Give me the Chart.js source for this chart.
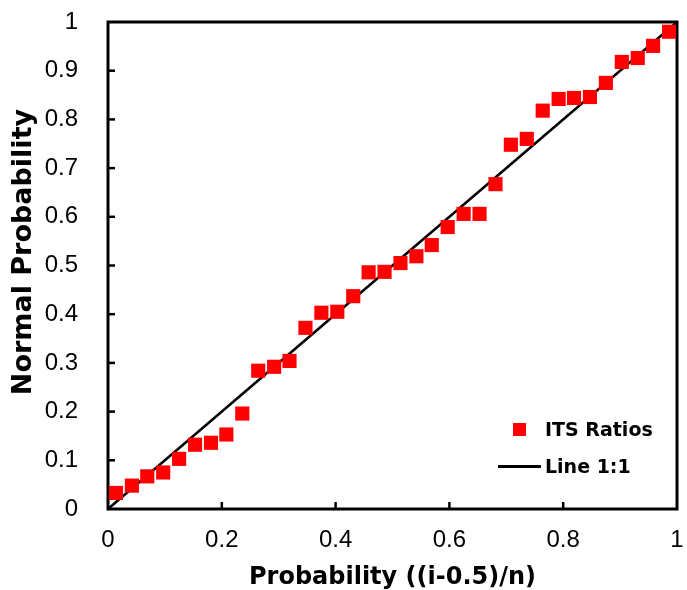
<!DOCTYPE html>
<html>
<head>
<meta charset="utf-8">
<script src="https://cdn.jsdelivr.net/npm/chart.js@4"></script>
<style>
    body { margin: 0; background: #fff; }
    #wrap { position: relative; width: 687px; height: 590px; }
    .legend-item {
        position: absolute;
        font-family: "DejaVu Sans", sans-serif;
        font-weight: bold;
        font-size: 19px;
        line-height: 20px;
        color: #000;
        white-space: nowrap;
    }
    .legend-mark { position: absolute; }
</style>
</head>
<body>
<div id="wrap">
    <canvas id="chart" width="687" height="590"></canvas>
    <!-- legend sits inside the plot, bottom right -->
    <div class="legend-mark" style="left:513px; top:423px; width:13px; height:13px; background:#ff0000;"></div>
    <div class="legend-item" style="left:545px; top:419px;">ITS Ratios</div>
    <div class="legend-mark" style="left:498px; top:465px; width:43px; height:3px; background:#000;"></div>
    <div class="legend-item" style="left:545px; top:456px;">Line 1:1</div>
</div>
<script>
// probability plot: sample probability vs normal probability

const probability = [
    0.014, 0.042, 0.069, 0.097, 0.125, 0.153, 0.181, 0.208, 0.236, 0.264,
    0.292, 0.319, 0.347, 0.375, 0.403, 0.431, 0.458, 0.486, 0.514, 0.542,
    0.569, 0.597, 0.625, 0.653, 0.681, 0.708, 0.736, 0.764, 0.792, 0.819,
    0.847, 0.875, 0.903, 0.931, 0.958, 0.986
];
const normalProbability = [
    0.033, 0.048, 0.067, 0.075, 0.103, 0.132, 0.136, 0.153, 0.196, 0.284,
    0.292, 0.304, 0.372, 0.403, 0.405, 0.437, 0.486, 0.487, 0.505, 0.519,
    0.542, 0.579, 0.606, 0.606, 0.667, 0.748, 0.760, 0.818, 0.842, 0.844,
    0.846, 0.875, 0.918, 0.926, 0.951, 0.980
];
const lineX = [0, 1];
const lineY = [0, 1];

const xTicks = [0, 0.2, 0.4, 0.6, 0.8, 1];
const yTicks = [0, 0.1, 0.2, 0.3, 0.4, 0.5, 0.6, 0.7, 0.8, 0.9, 1];

const tickFont = { family: '"Liberation Sans", Arial, sans-serif', size: 24, weight: 'normal' };
const titleShift = 27; // y title sits a bit above the middle of the axis

// box round the plot + inward tick marks
const framePlugin = {
    id: 'frame',
    beforeDraw(chart) {
        // only while the axis (and its title) is drawn
        chart.scales.y.bottom -= titleShift;
    },
    beforeDatasetsDraw(chart) {
        chart.scales.y.bottom += titleShift;

        const { ctx, chartArea: a, scales } = chart;
        ctx.save();
        ctx.strokeStyle = '#000';
        ctx.lineWidth = 2.5;
        const len = 7;
        scales.x.ticks.forEach(t => {
            if (t.value <= 0 || t.value >= 1) return;
            const px = scales.x.getPixelForValue(t.value);
            ctx.beginPath();
            ctx.moveTo(px, a.bottom);
            ctx.lineTo(px, a.bottom - len);
            ctx.stroke();
        });
        scales.y.ticks.forEach(t => {
            if (t.value <= 0 || t.value >= 1) return;
            const py = scales.y.getPixelForValue(t.value);
            ctx.beginPath();
            ctx.moveTo(a.left, py);
            ctx.lineTo(a.left + len, py);
            ctx.stroke();
        });
        ctx.lineWidth = 3;
        ctx.strokeRect(a.left, a.top, a.right - a.left, a.bottom - a.top);
        ctx.restore();
    }
};

new Chart(document.getElementById('chart'), {
    type: 'scatter',
    data: {
        datasets: [
            {
                label: 'ITS Ratios',
                data: probability.map((x, i) => ({ x: x, y: normalProbability[i] })),
                pointStyle: 'rect',
                pointRadius: 10,
                pointHoverRadius: 10,
                backgroundColor: '#ff0000',
                borderWidth: 0,
                order: 1
            },
            {
                type: 'line',
                label: 'Line 1:1',
                data: lineX.map((x, i) => ({ x: x, y: lineY[i] })),
                borderColor: '#000',
                borderWidth: 2.5,
                pointRadius: 0,
                fill: false,
                order: 2
            }
        ]
    },
    options: {
        responsive: false,
        animation: false,
        devicePixelRatio: 1,
        layout: { padding: { top: 22, right: 6, bottom: 0, left: 6 } },
        plugins: {
            legend: { display: false },
            tooltip: { enabled: false }
        },
        scales: {
            x: {
                type: 'linear',
                min: 0,
                max: 1,
                afterBuildTicks: s => { s.ticks = xTicks.map(v => ({ value: v })); },
                afterFit: s => {
                    s.height = 81;
                    s.paddingLeft = 0;
                    s.paddingRight = 0;
                },
                ticks: {
                    color: '#000',
                    font: tickFont,
                    padding: 9,
                    maxRotation: 0,
                    callback: v => String(v)
                },
                grid: { display: false },
                border: { display: false },
                title: {
                    display: true,
                    text: 'Probability ((i-0.5)/n)',
                    color: '#000',
                    font: { family: '"DejaVu Sans", sans-serif', size: 24, weight: 'bold', lineHeight: 1 },
                    padding: { top: 0, bottom: 0 }
                }
            },
            y: {
                type: 'linear',
                min: 0,
                max: 1,
                afterBuildTicks: s => { s.ticks = yTicks.map(v => ({ value: v })); },
                afterFit: s => {
                    s.width = 102;
                    s.paddingTop = 0;
                    s.paddingBottom = 0;
                },
                ticks: {
                    color: '#000',
                    font: tickFont,
                    padding: 22,
                    callback: v => String(v)
                },
                grid: { display: false },
                border: { display: false },
                title: {
                    display: true,
                    text: 'Normal Probability',
                    color: '#000',
                    font: { family: '"DejaVu Sans", sans-serif', size: 27, weight: 'bold', lineHeight: 1 },
                    padding: { top: 4, bottom: 0 }
                }
            }
        }
    },
    plugins: [framePlugin]
});
</script>
</body>
</html>
